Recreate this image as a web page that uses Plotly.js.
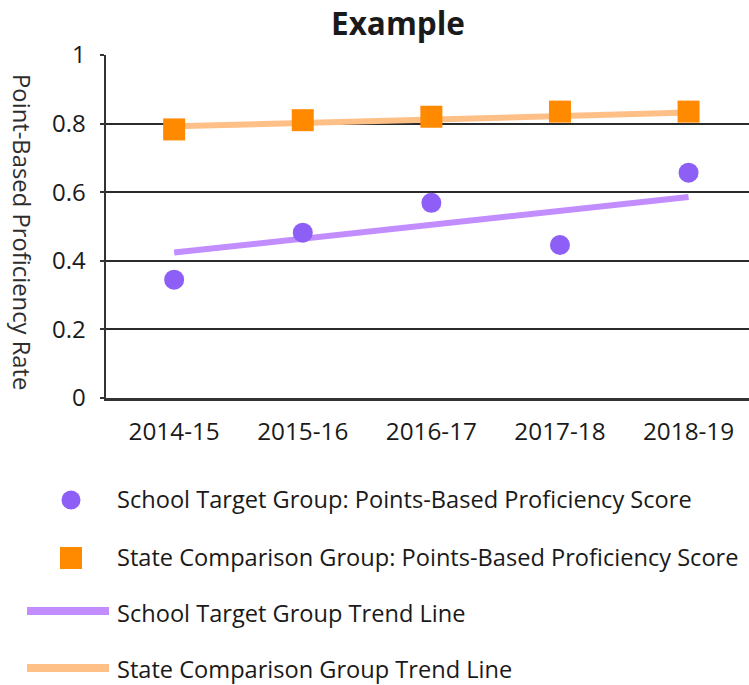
<!DOCTYPE html>
<html>
<head>
<meta charset="utf-8">
<script src="https://cdn.plot.ly/plotly-3.0.1.min.js"></script>
<style>html,body{margin:0;padding:0;background:#fff;}#chart{width:749px;height:685px;}</style>
</head>
<body>
<div id="chart"></div>
<script>
// ---- data ----
const categories = ['2014-15', '2015-16', '2016-17', '2017-18', '2018-19'];
const schoolScores = [0.345, 0.482, 0.569, 0.446, 0.657];
const stateScores = [0.783, 0.810, 0.820, 0.835, 0.835];
const trendCategories = ['2014-15', '2018-19'];
const schoolTrend = [0.424, 0.586];
const stateTrend = [0.792, 0.832];
const yTickValues = [0, 0.2, 0.4, 0.6, 0.8, 1];
const yTickLabels = ['0', '0.2', '0.4', '0.6', '0.8', '1'];
const legendLabels = [
  'School Target Group: Points-Based Proficiency Score',
  'State Comparison Group: Points-Based Proficiency Score',
  'School Target Group Trend Line',
  'State Comparison Group Trend Line'
];

// ---- style ----
const W = 749, H = 685;
const M = {l: 106, r: 0, t: 55, b: 287};
const plotW = W - M.l - M.r, plotH = H - M.t - M.b;
const px = x => (x - M.l) / plotW;
const py = y => (H - M.b - y) / plotH;
const FONT = 'Open Sans, sans-serif';
const TXT = '#1a1a1a';
const purple = '#8e5ff6', orange = '#ff8a00';
const purpleTrend = '#c28dff', orangeTrend = '#ffc088';

const traces = [
  {x: trendCategories, y: stateTrend, mode: 'lines', line: {color: orangeTrend, width: 6}, hoverinfo: 'skip', showlegend: false},
  {x: trendCategories, y: schoolTrend, mode: 'lines', line: {color: purpleTrend, width: 6}, hoverinfo: 'skip', showlegend: false},
  {x: categories, y: stateScores, mode: 'markers', marker: {symbol: 'square', size: 22, color: orange}, showlegend: false},
  {x: categories, y: schoolScores, mode: 'markers', marker: {symbol: 'circle', size: 20, color: purple}, showlegend: false}
];

// custom legend (symbols + labels)
const rowsText = [499, 557, 613, 669];
const shapes = [
  {type: 'circle', xref: 'paper', yref: 'paper', x0: px(61.5), x1: px(80.5), y0: py(509.5), y1: py(490.5), fillcolor: purple, line: {width: 0}},
  {type: 'rect', xref: 'paper', yref: 'paper', x0: px(60), x1: px(82), y0: py(569), y1: py(547), fillcolor: orange, line: {width: 0}},
  {type: 'line', xref: 'paper', yref: 'paper', x0: px(27), x1: px(109), y0: py(611), y1: py(611), line: {color: purpleTrend, width: 8}},
  {type: 'line', xref: 'paper', yref: 'paper', x0: px(27), x1: px(109), y0: py(668), y1: py(668), line: {color: orangeTrend, width: 8}}
];
const annotations = legendLabels.map((t, i) => ({
  text: t, xref: 'paper', yref: 'paper', x: px(115), y: py(rowsText[i]),
  xanchor: 'left', yanchor: 'middle', showarrow: false,
  font: {family: FONT, size: 23.6, color: TXT}
}));
annotations.push({
  text: 'Point-Based Proficiency Rate', textangle: 90,
  xref: 'paper', yref: 'paper', x: px(22), y: py(232),
  xanchor: 'center', yanchor: 'middle', showarrow: false,
  font: {family: FONT, size: 23.8, color: '#2e2e2e'}
});

const layout = {
  width: W, height: H,
  margin: M,
  paper_bgcolor: '#ffffff', plot_bgcolor: '#ffffff',
  showlegend: false,
  title: {
    text: '<b>Example</b>', font: {family: FONT, size: 31.5, color: TXT},
    xref: 'container', yref: 'container', x: 398 / W, xanchor: 'center', y: 1 - 24 / H, yanchor: 'middle'
  },
  xaxis: {
    type: 'category', categoryorder: 'array', categoryarray: categories,
    range: [-0.53, 4.47], showgrid: false, zeroline: false,
    showline: true, linecolor: '#333333', linewidth: 3,
    ticks: '', tickfont: {family: FONT, size: 24.3, color: TXT},
    ticklabelstandoff: 10
  },
  yaxis: {
    range: [0, 1], tickvals: yTickValues, ticktext: yTickLabels,
    showgrid: true, gridcolor: '#2b2b2b', gridwidth: 2,
    zeroline: false, showline: true, linecolor: '#333333', linewidth: 2.5,
    ticks: 'outside', ticklen: 4, tickwidth: 2, tickcolor: '#333333',
    tickfont: {family: FONT, size: 24, color: TXT},
    ticklabelstandoff: 9
  },
  shapes: shapes,
  annotations: annotations
};

Plotly.newPlot('chart', traces, layout, {displayModeBar: false, staticPlot: true});
</script>
</body>
</html>
